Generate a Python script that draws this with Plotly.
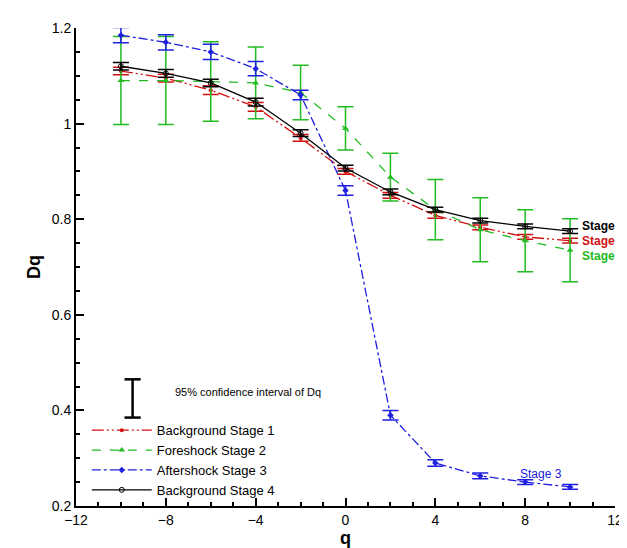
import plotly.graph_objects as go

q = [-10, -8, -6, -4, -2, 0, 2, 4, 6, 8, 10]

bg1 = [1.11, 1.095, 1.07, 1.035, 0.97, 0.90, 0.85, 0.808, 0.783, 0.763, 0.755]
bg1_err = [0.008, 0.008, 0.009, 0.009, 0.007, 0.006, 0.006, 0.006, 0.005, 0.005, 0.005]

fore2 = [1.09, 1.09, 1.088, 1.085, 1.065, 0.99, 0.888, 0.82, 0.778, 0.755, 0.735]
fore2_err = [0.092, 0.092, 0.083, 0.075, 0.057, 0.045, 0.05, 0.063, 0.067, 0.065, 0.066]

after3 = [1.185, 1.17, 1.15, 1.115, 1.06, 0.86, 0.39, 0.29, 0.263, 0.25, 0.24]
after3_err = [0.016, 0.016, 0.016, 0.015, 0.01, 0.01, 0.01, 0.007, 0.006, 0.005, 0.005]

bg4 = [1.12, 1.105, 1.085, 1.045, 0.98, 0.907, 0.857, 0.82, 0.797, 0.785, 0.775]
bg4_err = [0.008, 0.008, 0.008, 0.008, 0.007, 0.006, 0.006, 0.005, 0.005, 0.005, 0.005]

series = [
    ("Background Stage 1", bg1, bg1_err, "#d01010", "12px,3px,2px,3px,2px,3px", "circle", 4),
    ("Foreshock Stage 2", fore2, fore2_err, "#22bb22", "dash", "triangle-up", 6),
    ("Aftershock Stage 3", after3, after3_err, "#2020e0", "dashdot", "diamond", 5),
    ("Background Stage 4", bg4, bg4_err, "black", "solid", "circle-open", 5),
]

fig = go.Figure()
for name, y, err, color, dash, sym, size in series:
    fig.add_trace(go.Scatter(
        x=q, y=y, name=name, mode="lines+markers",
        line=dict(color=color, dash=dash, width=1.3),
        marker=dict(symbol=sym, size=size, color=color),
        error_y=dict(type="data", array=err, color=color, thickness=1.5, width=8),
    ))

# end labels
for y, color, shift in [(bg4[-1], "black", 5), (bg1[-1], "#d01010", 0), (fore2[-1], "#22bb22", -6)]:
    fig.add_annotation(x=10, y=y, text="<b>Stage</b>", showarrow=False, xanchor="left",
                       xshift=10, yshift=shift, font=dict(color=color, size=12))
fig.add_annotation(x=10, y=after3[-1], text="Stage 3", showarrow=False, xanchor="right",
                   xshift=-6, yshift=13, font=dict(color="#2020e0", size=12))

# confidence interval key
fig.add_shape(type="line", xref="paper", yref="paper", x0=0.105, x1=0.105, y0=0.185, y1=0.265,
              line=dict(color="black", width=2.5))
for yy in (0.185, 0.265):
    fig.add_shape(type="line", xref="paper", yref="paper", x0=0.09, x1=0.12, y0=yy, y1=yy,
                  line=dict(color="black", width=2.5))
fig.add_annotation(xref="paper", yref="paper", x=0.18, y=0.222, text="95% confidence interval of Dq",
                   showarrow=False, xanchor="left", font=dict(size=11, color="black"))

axis = dict(showline=True, linecolor="black", linewidth=2, ticks="inside", ticklen=8,
            tickwidth=2, tickcolor="black", showgrid=False, zeroline=False, mirror=False,
            tickfont=dict(size=14, color="black"))
fig.update_xaxes(range=[-12, 12], dtick=4, title=dict(text="<b>q</b>", font=dict(size=18), standoff=4),
                 minor=dict(dtick=1, ticks="inside", ticklen=4, tickcolor="black"), **axis)
fig.update_yaxes(range=[0.2, 1.2], dtick=0.2, tickformat="~g", title=dict(text="<b>Dq</b>", font=dict(size=18), standoff=6),
                 minor=dict(dtick=0.05, ticks="inside", ticklen=4, tickcolor="black"), **axis)

fig.update_layout(
    width=627, height=548, plot_bgcolor="white", paper_bgcolor="white",
    font=dict(family="Liberation Sans, Arial", color="black"),
    margin=dict(l=68, r=15, t=16, b=45),
    showlegend=True,
    legend=dict(x=0.02, y=0.19, xanchor="left", yanchor="top", bgcolor="rgba(0,0,0,0)",
                font=dict(size=13), tracegroupgap=0, itemwidth=60),
)

fig.write_html("out.html")
